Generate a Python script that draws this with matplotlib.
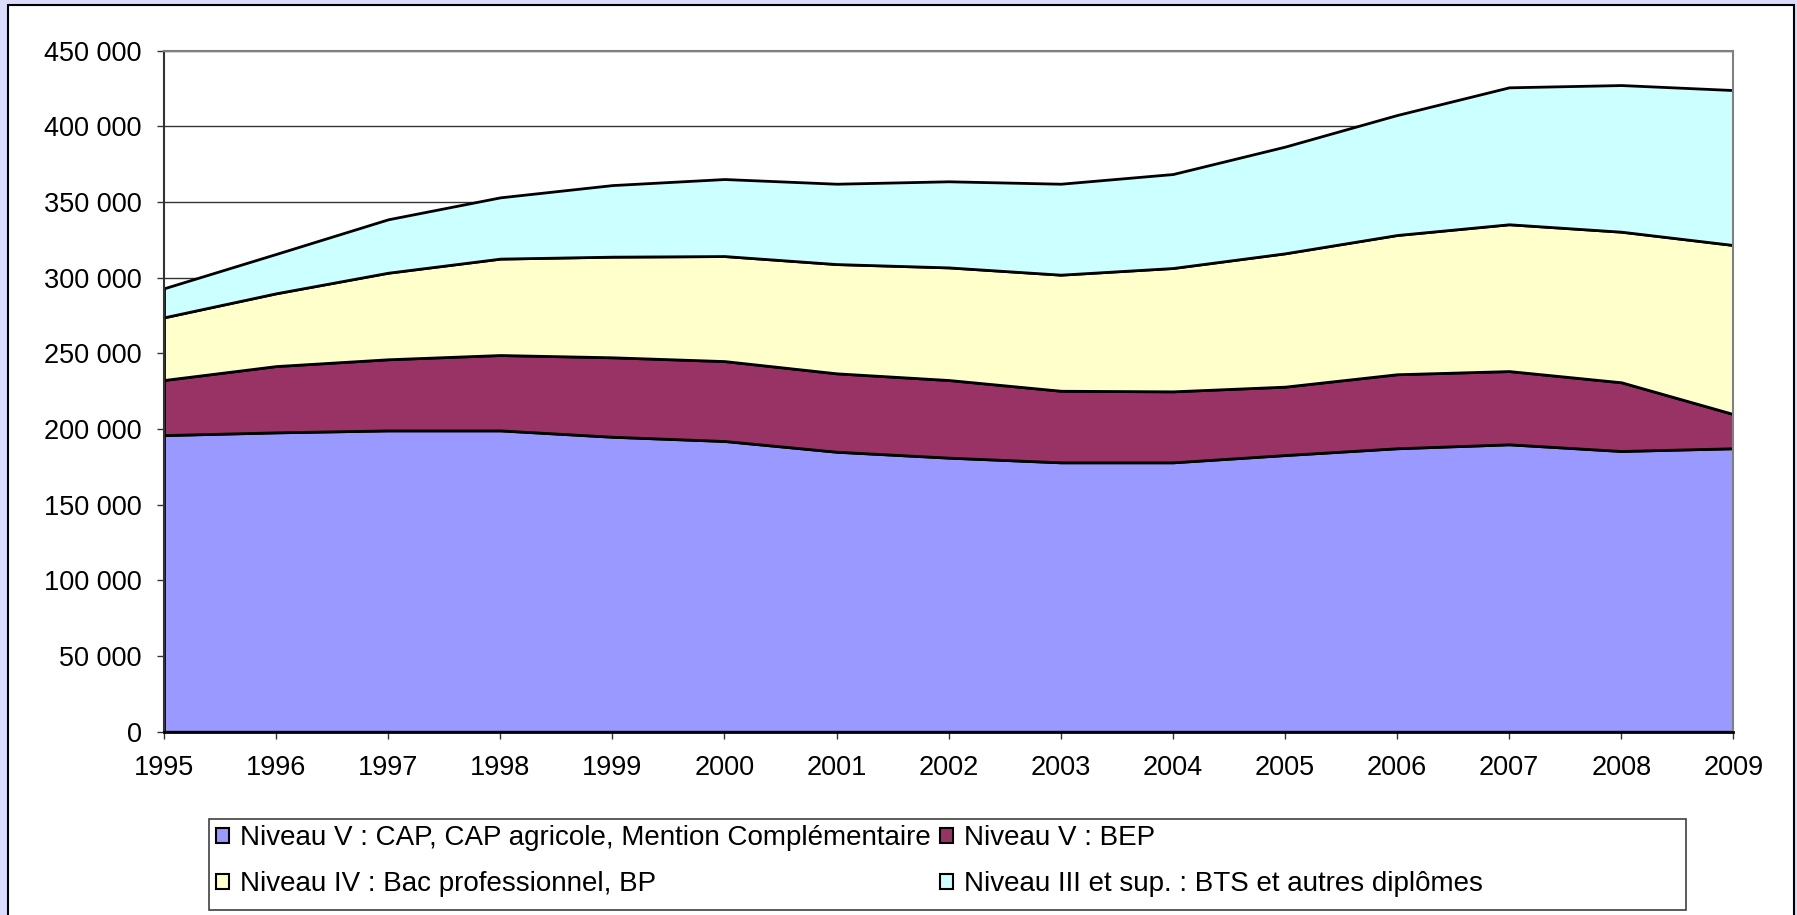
import matplotlib
matplotlib.use('Agg')
import matplotlib.pyplot as plt
from matplotlib.patches import Patch, Rectangle
from matplotlib.ticker import FuncFormatter, MultipleLocator

plt.rcParams['font.family'] = ['Liberation Sans', 'DejaVu Sans']

years = list(range(1995, 2010))

# effectifs par niveau
cap = [196000, 197800, 199100, 199100, 194900, 192100, 185000, 181100,
       178000, 178000, 182800, 187300, 189900, 185500, 187300]
bep = [36400, 43800, 47000, 49800, 52500, 52800, 51800, 51300,
       47300, 46900, 45200, 48900, 48400, 45400, 22600]
bac_pro = [41400, 48100, 57200, 63700, 66500, 69400, 72200, 74400,
           76700, 81500, 88100, 92000, 97000, 99500, 111700]
bts = [19200, 26000, 35300, 40500, 47300, 50900, 53100, 56900,
       60100, 62100, 70500, 79300, 90500, 96900, 102400]

labels = ["Niveau V : CAP, CAP agricole, Mention Complémentaire",
          "Niveau V : BEP",
          "Niveau IV : Bac professionnel, BP",
          "Niveau III et sup. : BTS et autres diplômes"]
colors = ['#9999FF', '#993366', '#FFFFCC', '#CCFFFF']

W, H = 1797, 915
fig = plt.figure(figsize=(W / 100, H / 100), dpi=100)
fig.patch.set_facecolor('#DCDCFF')

# zone du graphique (cadre blanc)
fig.patches.append(Rectangle((8 / W, -0.01), (1794 - 8) / W, 1.01 - 5 / H,
                             transform=fig.transFigure, facecolor='white',
                             edgecolor='black', linewidth=1.5, zorder=-5))

ax = fig.add_axes([164 / W, 183.3 / H, (1733.3 - 164) / W, (731.7 - 50.7) / H])
ax.set_facecolor('white')

ax.stackplot(years, cap, bep, bac_pro, bts, colors=colors,
             edgecolor='black', linewidth=2, zorder=2)

ax.set_xlim(1995, 2009)
ax.set_ylim(0, 450000)
ax.yaxis.set_major_locator(MultipleLocator(50000))
ax.yaxis.set_major_formatter(FuncFormatter(lambda v, p: f"{int(v):,}".replace(',', ' ')))
ax.set_xticks(years)
ax.grid(axis='y', color='#333333', linewidth=1, zorder=1)
ax.set_axisbelow(True)

for s in ['top', 'right']:
    ax.spines[s].set_color('#808080')
    ax.spines[s].set_linewidth(1.5)
ax.spines['left'].set_color('#333333')
ax.spines['left'].set_linewidth(1.5)
ax.spines['bottom'].set_color('black')
ax.spines['bottom'].set_linewidth(2)
ax.spines['bottom'].set_zorder(3)

ax.tick_params(axis='y', direction='out', length=5, width=1, color='#333333',
               labelsize=19.5, pad=11)
ax.tick_params(axis='x', direction='out', length=5, width=1, color='#333333',
               labelsize=19.5, pad=12)

# légende
handles = [Patch(facecolor=c, edgecolor='black', linewidth=1.5) for c in colors]
order = [0, 2, 1, 3]
leg = fig.legend([handles[i] for i in order], [labels[i] for i in order],
                 ncol=2, loc='upper left', bbox_to_anchor=(216 / W, 1 - 825 / H),
                 frameon=False, fontsize=20, handlelength=0.45, handleheight=0.45,
                 handletextpad=0.4, columnspacing=0.35, labelspacing=0.72,
                 borderpad=0, borderaxespad=0)

fig.patches.append(Rectangle((209 / W, 1 - 910 / H), (1686 - 209) / W, (910 - 819) / H,
                             transform=fig.transFigure, facecolor='none',
                             edgecolor='#404040', linewidth=1.2, zorder=1))

fig.savefig('out.png', dpi=100, facecolor=fig.get_facecolor())
